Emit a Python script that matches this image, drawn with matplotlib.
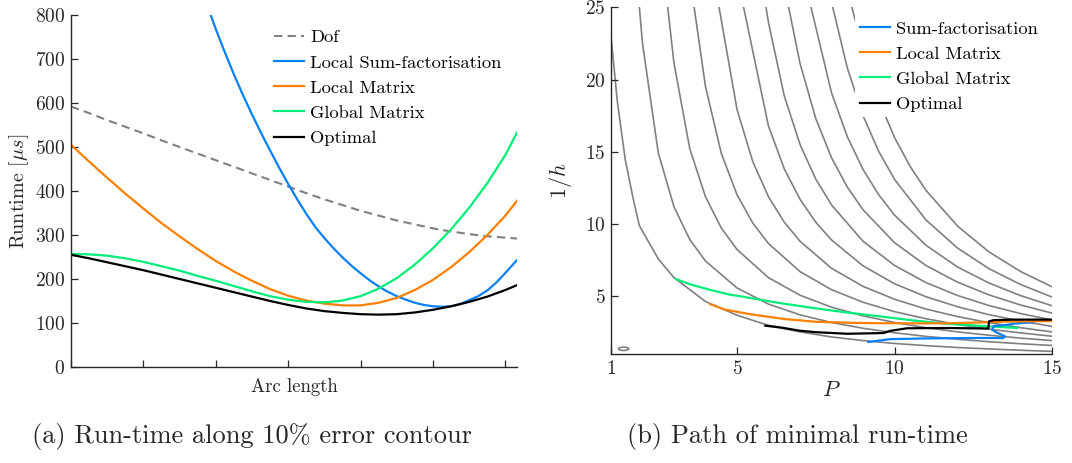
import matplotlib
matplotlib.use("Agg")
import matplotlib.pyplot as plt
from matplotlib.patches import Ellipse

plt.rcParams['font.family'] = ['cmr10', 'DejaVu Serif']
plt.rcParams['mathtext.fontset'] = 'cm'
plt.rcParams['axes.formatter.use_mathtext'] = True
plt.rcParams['axes.unicode_minus'] = False

C_BLUE = '#0A80F5'
C_ORANGE = '#FF8000'
C_GREEN = '#00EE77'
C_GRAY = '#808080'
C_AXIS = '#262626'

# ---- (a) run-time along the 10% error contour ----
arc = [0, 0.25, 0.5, 0.75, 1, 1.25, 1.5, 1.75, 2, 2.25, 2.5, 2.75, 3, 3.25,
       3.5, 3.75, 4, 4.25, 4.5, 4.75, 5, 5.25, 5.5, 5.75, 6, 6.16]
dof_t = [592, 577, 561, 546, 531, 515, 500, 485, 470, 455, 440, 425, 410, 395,
         381, 368, 355, 344, 333, 324, 315, 308, 302, 297, 294, 292]
locmat_t = [505, 467, 430, 394, 360, 327, 297, 268, 241, 217, 196, 177, 162, 151,
            144, 140, 140, 146, 157, 175, 198, 227, 261, 300, 344, 378]
glbmat_t = [257, 256, 253, 247, 239, 229, 219, 207, 196, 184, 172, 161, 153, 148,
            147, 151, 161, 178, 202, 233, 270, 313, 362, 418, 482, 533]
opt_t = [255, 247, 238, 229, 220, 210, 200, 190, 180, 170, 160, 150, 141, 133,
         127, 123, 120, 119, 120, 124, 130, 138, 148, 160, 175, 186]

# sum-factorisation leaves the top of the axes, so it has its own arc samples
sumfac_s = [1.93, 2.0, 2.125, 2.25, 2.375, 2.5, 2.625, 2.75, 2.875, 3.0, 3.125,
            3.25, 3.375, 3.5, 3.625, 3.75, 3.875, 4.0, 4.125, 4.25, 4.375, 4.5,
            4.625, 4.75, 4.875, 5.0, 5.125, 5.25, 5.375, 5.5, 5.625, 5.75, 5.875,
            6.0, 6.16]
sumfac_t = [800, 768, 715, 665, 618, 574, 532, 492, 453, 416, 381,
            348, 318, 293, 270, 249, 230, 213, 197, 183, 171, 161,
            153, 146, 141, 138, 137, 138, 143, 152, 161, 174, 192,
            214, 243]

# ---- (b) error contours in the (P, 1/h) plane ----
contours = [
    ([1.0, 1.2, 1.45, 1.7, 1.9, 2.5, 3, 4, 5, 6, 7, 8, 9, 10, 11, 12, 13, 14, 15],
     [23.0, 18.5, 14.5, 11.8, 9.9, 7.6, 6.3, 4.65, 3.7, 3.0, 2.55, 2.2, 1.95, 1.75, 1.6, 1.47, 1.37, 1.28, 1.2]),
    ([1.90, 2, 2.5, 3, 3.5, 4, 5, 6, 7, 8, 9, 10, 11, 12, 13, 14, 15],
     [25, 22.5, 14.94, 11.2, 8.94, 7.45, 5.59, 4.47, 3.73, 3.2, 2.8, 2.49, 2.24, 2.04, 1.87, 1.73, 1.61]),
    ([2.80, 3, 3.5, 4, 4.5, 5, 6, 7, 8, 9, 10, 11, 12, 13, 14, 15],
     [25, 21.13, 15.23, 11.89, 9.74, 8.25, 6.30, 5.09, 4.26, 3.66, 3.20, 2.84, 2.55, 2.32, 2.12, 1.95]),
    ([3.64, 4, 4.5, 5, 5.5, 6, 7, 8, 9, 10, 11, 12, 13, 14, 15],
     [25, 19.51, 14.91, 12.04, 10.08, 8.66, 6.72, 5.47, 4.60, 3.95, 3.46, 3.06, 2.74, 2.48, 2.25]),
    ([4.43, 5, 5.5, 6, 6.5, 7, 8, 9, 10, 11, 12, 13, 14, 15],
     [25, 17.94, 14.33, 11.89, 10.14, 8.82, 6.95, 5.70, 4.81, 4.13, 3.61, 3.19, 2.84, 2.55]),
    ([5.21, 6, 6.5, 7, 7.5, 8, 9, 10, 11, 12, 13, 14, 15],
     [25, 16.78, 13.83, 11.72, 10.14, 8.91, 7.12, 5.88, 4.98, 4.29, 3.74, 3.30, 2.93]),
    ([5.92, 6, 6.5, 7, 7.5, 8, 9, 10, 11, 12, 13, 14, 15],
     [25, 23.94, 18.88, 15.52, 13.12, 11.33, 8.82, 7.15, 5.96, 5.07, 4.37, 3.82, 3.37]),
    ([6.64, 7, 7.5, 8, 8.5, 9, 10, 11, 12, 13, 14, 15],
     [25, 21.13, 17.31, 14.60, 12.57, 11.00, 8.72, 7.14, 5.99, 5.11, 4.41, 3.85]),
    ([7.35, 8, 8.5, 9, 9.5, 10, 11, 12, 13, 14, 15],
     [25, 19.09, 16.06, 13.79, 12.03, 10.63, 8.54, 7.04, 5.93, 5.06, 4.36]),
    ([8.04, 8.5, 9, 9.5, 10, 11, 12, 13, 14, 15],
     [25, 20.82, 17.51, 15.03, 13.10, 10.29, 8.35, 6.92, 5.83, 4.96]),
    ([8.65, 9, 9.5, 10, 10.5, 11, 12, 13, 14, 15],
     [25, 21.95, 18.57, 16.00, 13.98, 12.34, 9.87, 8.08, 6.73, 5.67]),
]
island_p, island_h = 1.40, 1.38

path_sumfac_p = [9.17, 9.5, 9.86, 11.1, 12.7, 13.45, 13.5, 13.25, 13.1, 13.15, 13.5, 13.8, 14.4]
path_sumfac_h = [1.85, 1.95, 2.05, 2.10, 2.13, 2.12, 2.25, 2.5, 2.7, 2.95, 3.02, 3.12, 3.22]

path_locmat_p = [4.15, 4.6, 5.4, 6.5, 7.5, 8.6, 9.5, 10.6, 11.5, 12.7, 13.5, 15.0]
path_locmat_h = [4.47, 4.1, 3.78, 3.44, 3.25, 3.18, 3.15, 3.14, 3.14, 3.2, 3.26, 3.3]

path_glbmat_p = [3.07, 3.5, 4.14, 4.78, 5.0, 6.37, 7.43, 8.49, 9.55, 10.6, 11.66, 12.72, 13.89]
path_glbmat_h = [6.2, 5.85, 5.46, 5.12, 5.05, 4.54, 4.2, 3.89, 3.62, 3.34, 3.11, 2.97, 2.82]

path_opt_p = [5.9, 6.4, 7.0, 7.5, 8.5, 9.65, 9.86, 10.4, 11.7, 12.98, 13.0, 13.14, 13.8, 15.0]
path_opt_h = [2.98, 2.85, 2.63, 2.53, 2.42, 2.47, 2.62, 2.8, 2.82, 2.78, 3.28, 3.36, 3.4, 3.4]

fig = plt.figure(figsize=(10.72, 4.63), dpi=100)
W, H = 1072, 463
TICK_FS = 14
LEG_FS = 13.3


def style_axes(ax):
    for side in ('top', 'right'):
        ax.spines[side].set_visible(False)
    for side in ('left', 'bottom'):
        ax.spines[side].set_color(C_AXIS)
        ax.spines[side].set_linewidth(1.0)
    ax.tick_params(direction='in', length=5, width=0.9, colors=C_AXIS,
                   labelsize=TICK_FS, labelcolor=C_AXIS, pad=4)


ax1 = fig.add_axes([71 / W, 1 - 367 / H, (517 - 71) / W, (367 - 15) / H])
style_axes(ax1)
ax1.plot(arc, dof_t, '--', color=C_GRAY, lw=1.5, dashes=(4, 2.5), label='Dof')
ax1.plot(sumfac_s, sumfac_t, color=C_BLUE, lw=1.6, label='Local Sum-factorisation')
ax1.plot(arc, locmat_t, color=C_ORANGE, lw=1.6, label='Local Matrix')
ax1.plot(arc, glbmat_t, color=C_GREEN, lw=1.6, label='Global Matrix')
ax1.plot(arc, opt_t, color='black', lw=1.6, label='Optimal')
ax1.set_xlim(0, 6.16)
ax1.set_ylim(0, 800)
ax1.set_xticks(range(7))
ax1.set_xticklabels([])
ax1.set_yticks(range(0, 801, 100))
ax1.set_xlabel('Arc length', fontsize=13.5, color=C_AXIS, labelpad=4)
ax1.set_ylabel(r'Runtime [$\mu s$]', fontsize=14.5, color=C_AXIS, labelpad=3)
ax1.legend(loc='upper left', bbox_to_anchor=(274 / W, 1 - 29.5 / H),
           bbox_transform=fig.transFigure, frameon=False, fontsize=LEG_FS,
           handlelength=1.65, handletextpad=0.3, labelspacing=0.5,
           borderpad=0, borderaxespad=0)

ax2 = fig.add_axes([611 / W, 1 - 354.3 / H, (1052 - 611) / W, (354.3 - 7.3) / H])
style_axes(ax2)
for p_vals, h_vals in contours:
    ax2.plot(p_vals, h_vals, color=C_GRAY, lw=1.2, zorder=1)
ax2.add_patch(Ellipse((island_p, island_h), 0.32, 0.23, fill=False,
                      edgecolor=C_GRAY, lw=1.2, zorder=1))
ax2.plot(path_sumfac_p, path_sumfac_h, color=C_BLUE, lw=1.6, zorder=3,
         label='Sum-factorisation')
ax2.plot(path_locmat_p, path_locmat_h, color=C_ORANGE, lw=1.6, zorder=3,
         label='Local Matrix')
ax2.plot(path_glbmat_p, path_glbmat_h, color=C_GREEN, lw=1.6, zorder=2,
         label='Global Matrix')
ax2.plot(path_opt_p, path_opt_h, color='black', lw=1.6, zorder=4, label='Optimal')
ax2.set_xlim(1, 15)
ax2.set_ylim(1, 25)
ax2.set_xticks([1, 5, 10, 15])
ax2.set_yticks([5, 10, 15, 20, 25])
ax2.set_xlabel('$P$', fontsize=16, color=C_AXIS, labelpad=2)
ax2.set_ylabel('$1/h$', fontsize=16, color=C_AXIS, labelpad=8)
leg2 = ax2.legend(loc='upper left', bbox_to_anchor=(855 / W, 1 - 16 / H),
                  bbox_transform=fig.transFigure, frameon=True, fancybox=False,
                  fontsize=LEG_FS, handlelength=1.65, handletextpad=0.3,
                  labelspacing=0.5, borderpad=0.25, borderaxespad=0)
leg2.get_frame().set_facecolor('white')
leg2.get_frame().set_edgecolor('none')
leg2.get_frame().set_alpha(1.0)
leg2.set_zorder(10)

fig.text(252 / W, 1 - 437 / H, r'(a) Run-time along 10% error contour',
         ha='center', va='center', fontsize=19, color=C_AXIS)
fig.text(797 / W, 1 - 437 / H, r'(b) Path of minimal run-time',
         ha='center', va='center', fontsize=19, color=C_AXIS)

fig.savefig('out.png', dpi=100)
